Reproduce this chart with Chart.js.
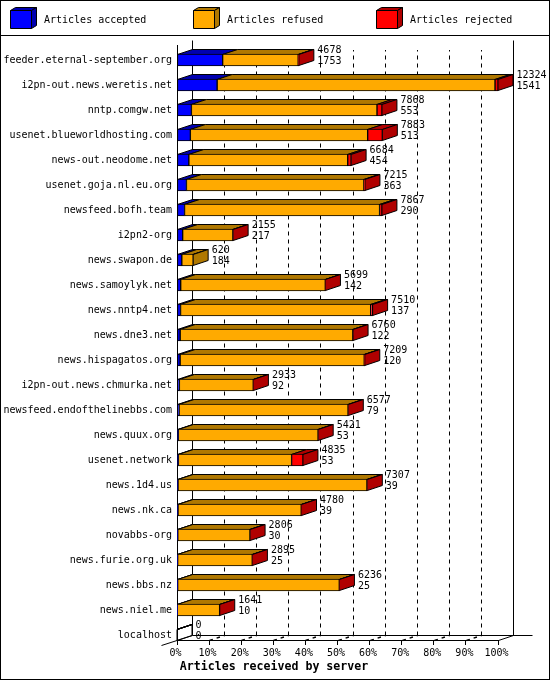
<!DOCTYPE html>
<html>
<head>
<meta charset="utf-8">
<style>html,body{margin:0;padding:0;background:#fff}canvas{display:block}</style>
<script src="https://cdn.jsdelivr.net/npm/chart.js@4/dist/chart.umd.min.js"></script>
</head>
<body>
<canvas id="c" width="550" height="680"></canvas>
<script>
const servers = ["feeder.eternal-september.org","i2pn-out.news.weretis.net","nntp.comgw.net","usenet.blueworldhosting.com","news-out.neodome.net","usenet.goja.nl.eu.org","newsfeed.bofh.team","i2pn2-org","news.swapon.de","news.samoylyk.net","news.nntp4.net","news.dne3.net","news.hispagatos.org","i2pn-out.news.chmurka.net","newsfeed.endofthelinebbs.com","news.quux.org","usenet.network","news.1d4.us","news.nk.ca","novabbs-org","news.furie.org.uk","news.bbs.nz","news.niel.me","localhost"];
const totals = [4678,12324,7868,7883,6684,7215,7867,2155,620,5699,7510,6760,7209,2933,6577,5421,4835,7307,4780,2806,2895,6236,1641,0];
const accepted = [1753,1541,553,513,454,363,290,217,184,142,137,122,120,92,79,53,53,39,39,30,25,25,10,0];
const refused = [2900,10668,7125,6807,6100,6812,7487,1928,436,5552,7298,6628,7069,2836,6488,5363,4347,7253,4731,2771,2865,6206,1626,0];
const rejected = [25,115,190,563,130,40,90,10,0,5,75,10,20,5,10,5,435,15,10,5,5,5,5,0];
const tickPercents = [0,10,20,30,40,50,60,70,80,90,100];
const axisMax = 12324;
const seriesNames = ["Articles accepted","Articles refused","Articles rejected"];
const frontColors = ["#0000FF","#FFAA00","#FF0000"];
const darkColors = ["#0000B0","#B07800","#B00000"];
const axisTitle = "Articles received by server";

const DX = 15, DY = -5;
const FONT = '"DejaVu Sans Mono", monospace';
const crisp = v => Math.round(v) + 0.5;

function poly(ctx, pts, fill) {
  ctx.beginPath();
  pts.forEach((p, i) => i ? ctx.lineTo(p[0], p[1]) : ctx.moveTo(p[0], p[1]));
  ctx.closePath();
  if (fill) { ctx.fillStyle = fill; ctx.fill(); }
  ctx.stroke();
}
function line(ctx, x1, y1, x2, y2) {
  ctx.beginPath(); ctx.moveTo(x1, y1); ctx.lineTo(x2, y2); ctx.stroke();
}

const frame3d = {
  id: 'frame3d',
  beforeDatasetsDraw(chart) {
    const { ctx, chartArea: a, scales: { x } } = chart;
    const L = crisp(a.left), R = crisp(a.right), B = crisp(a.bottom), T = crisp(a.top);
    ctx.save();
    ctx.strokeStyle = '#000'; ctx.lineWidth = 1;
    // back walls and floor
    line(ctx, L + DX, T + DY, L + DX, B + DY);
    line(ctx, R + DX, T + DY, R + DX, B + DY);
    line(ctx, L + DX, B + DY, R + DX + 19, B + DY);
    line(ctx, L + DX, B + DY, L - 16, B + 5);
    line(ctx, R, B, R + DX, B + DY);
    // gridlines on the back wall, diagonal floor marks
    tickPercents.slice(1, -1).forEach(p => {
      const px = crisp(x.getPixelForValue(p / 100 * axisMax));
      ctx.setLineDash([4, 4]);
      ctx.beginPath(); ctx.moveTo(px + DX, B + DY); ctx.lineTo(px + DX, a.top + 5); ctx.stroke();
      ctx.lineWidth = 1.5;
      ctx.setLineDash([3.5, 4]);
      line(ctx, px, B, px + DX, B + DY);
      ctx.lineWidth = 1;
      ctx.setLineDash([]);
    });
    // bar top and side faces
    servers.forEach((_, i) => {
      let last = -1;
      chart.data.datasets.forEach((d, k) => {
        const el = chart.getDatasetMeta(k).data[i];
        if (d.data[i].x > 0) last = k;
        const x0 = el.base, x1 = el.x, top = crisp(el.y - el.height / 2);
        poly(ctx, [[x0, top], [x1, top], [x1 + DX, top + DY], [x0 + DX, top + DY]], darkColors[k]);
      });
      const k = Math.max(last, 0);
      const el = chart.getDatasetMeta(k).data[i];
      const top = crisp(el.y - el.height / 2), bot = crisp(el.y + el.height / 2) - 1;
      poly(ctx, [[el.x, top], [el.x + DX, top + DY], [el.x + DX, bot + DY], [el.x, bot]], last < 0 ? null : darkColors[k]);
    });
    ctx.restore();
  },
  afterDatasetsDraw(chart) {
    const { ctx, scales: { x, y } } = chart;
    ctx.save();
    ctx.fillStyle = '#000';
    ctx.font = '10px ' + FONT;
    ctx.textAlign = 'left'; ctx.textBaseline = 'middle';
    servers.forEach((_, i) => {
      const px = x.getPixelForValue(totals[i]) + 18.5, py = y.getPixelForValue(i);
      ctx.fillText(String(totals[i]), px, py - 10);
      ctx.fillText(String(accepted[i]), px, py + 1);
    });
    ctx.restore();
  },
  afterDraw(chart) {
    const { ctx } = chart;
    ctx.save();
    ctx.strokeStyle = '#000'; ctx.lineWidth = 1;
    ctx.strokeRect(0.5, 0.5, 549, 679);
    line(ctx, 0, 35.5, 550, 35.5);
    seriesNames.forEach((name, k) => {
      const bx = 10.5 + 183 * k;
      const w = 21, t = 10.5, b = 28.5, dx = 5, dy = -3;
      poly(ctx, [[bx, t], [bx + w, t], [bx + w + dx, t + dy], [bx + dx, t + dy]], darkColors[k]);
      poly(ctx, [[bx + w, t], [bx + w + dx, t + dy], [bx + w + dx, b + dy], [bx + w, b]], darkColors[k]);
      poly(ctx, [[bx, t], [bx + w, t], [bx + w, b], [bx, b]], frontColors[k]);
      ctx.fillStyle = '#000';
      ctx.font = '10px ' + FONT;
      ctx.textAlign = 'left'; ctx.textBaseline = 'middle';
      ctx.fillText(name, 44 + 183 * k, 20);
    });
    ctx.fillStyle = '#000';
    ctx.font = 'bold 11.6px ' + FONT;
    ctx.textAlign = 'center'; ctx.textBaseline = 'middle';
    ctx.fillText(axisTitle, 274, 667);
    ctx.restore();
  }
};

const series = [accepted, refused, rejected];
new Chart(document.getElementById('c'), {
  type: 'bar',
  plugins: [frame3d],
  data: {
    datasets: series.map((vals, k) => ({
      label: seriesNames[k],
      data: vals.map((v, i) => ({ x: v, y: i })),
      backgroundColor: frontColors[k],
      borderColor: '#000',
      borderWidth: 1,
      borderSkipped: false,
      barThickness: 12
    }))
  },
  options: {
    indexAxis: 'y',
    responsive: false,
    devicePixelRatio: 1,
    animation: false,
    layout: { autoPadding: false, padding: { top: 45, right: 52, bottom: 19, left: 0 } },
    plugins: {
      legend: { display: false },
      tooltip: { enabled: false },
      title: { display: false }
    },
    scales: {
      x: {
        type: 'linear', stacked: true, min: 0, max: axisMax,
        afterBuildTicks: s => { s.ticks = tickPercents.map(p => ({ value: p / 100 * axisMax })); },
        afterFit: s => { s.height = 21; },
        grid: { display: true, drawOnChartArea: false, drawTicks: true, tickLength: 5, color: '#000' },
        border: { display: true, color: '#000' },
        ticks: {
          color: '#000', autoSkip: false, maxRotation: 0, padding: 2, labelOffset: -1.5,
          font: { family: FONT, size: 10 },
          callback: (v, i) => tickPercents[i] + '%'
        }
      },
      y: {
        type: 'linear', stacked: true, reverse: true, offset: false, min: -0.6, max: 23.2,
        afterBuildTicks: s => { s.ticks = servers.map((_, i) => ({ value: i })); },
        afterFit: s => { s.width = 177; },
        grid: { display: false, drawTicks: false },
        border: { display: true, color: '#000' },
        ticks: {
          color: '#000', autoSkip: false, padding: 5,
          font: { family: FONT, size: 10 },
          callback: v => servers[v]
        }
      }
    }
  }
});
</script>
</body>
</html>
